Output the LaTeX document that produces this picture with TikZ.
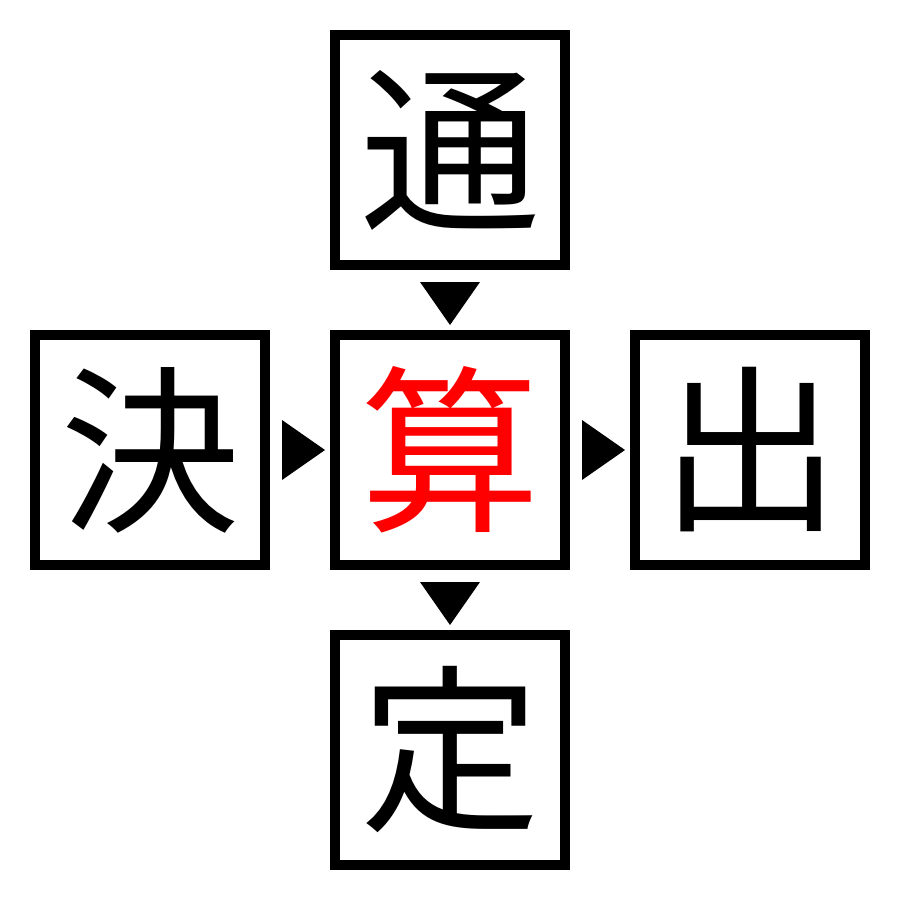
\documentclass[tikz,border=0pt]{standalone}
\usepackage{fontspec}
\newfontfamily\cjk{Noto Sans CJK JP}
\usetikzlibrary{calc}
\tikzset{
  kbox/.style={draw=black, line width=10pt, minimum size=230pt, inner sep=0pt,
    font=\cjk\fontsize{180}{180}\selectfont, text=black},
  tri/.style={fill=black}
}
\begin{document}
\begin{tikzpicture}[x=1pt,y=1pt]
\useasboundingbox (0,0) rectangle (900,-900);
\fill[white] (0,0) rectangle (900,-900);
\node[kbox] (t) at (450,-150) {通};
\node[kbox] (l) at (150,-450) {決};
\node[kbox, text=red] (c) at (450,-450) {算};
\node[kbox] (r) at (750,-450) {出};
\node[kbox] (b) at (450,-750) {定};
\fill[tri] ($(t.south)+(-30,-12)$) -- ($(t.south)+(30,-12)$) -- ($(t.south)+(0,-55)$) -- cycle;
\fill[tri] ($(c.south)+(-30,-12)$) -- ($(c.south)+(30,-12)$) -- ($(c.south)+(0,-55)$) -- cycle;
\fill[tri] ($(l.east)+(12,30)$) -- ($(l.east)+(12,-30)$) -- ($(l.east)+(55,0)$) -- cycle;
\fill[tri] ($(c.east)+(12,30)$) -- ($(c.east)+(12,-30)$) -- ($(c.east)+(55,0)$) -- cycle;
\end{tikzpicture}
\end{document}
